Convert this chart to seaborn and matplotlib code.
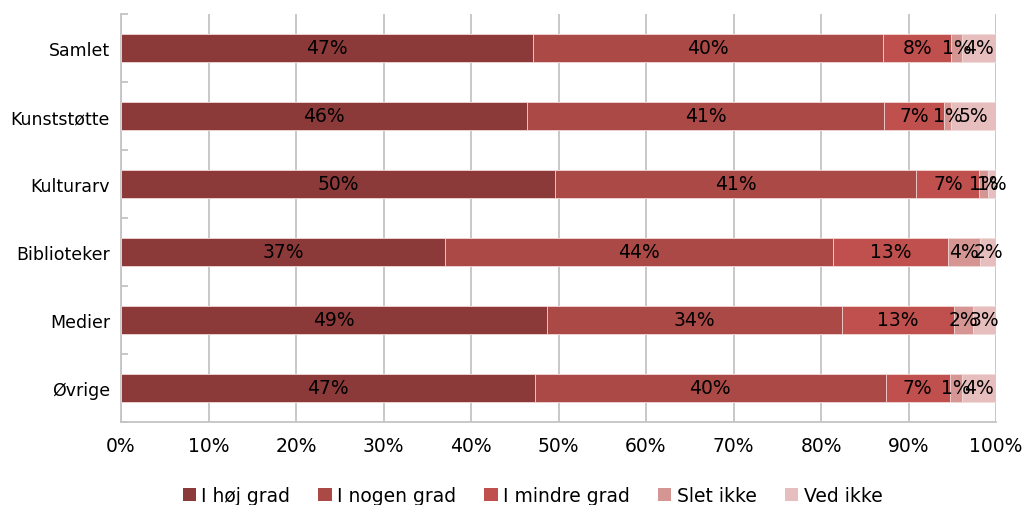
import numpy as np
import pandas as pd
import matplotlib
matplotlib.use("Agg")
import matplotlib.pyplot as plt
from matplotlib.ticker import PercentFormatter, FixedLocator
from matplotlib.patches import Patch
import seaborn as sns

# Survey answers per area (share of respondents, %)
categories = ["Samlet", "Kunststøtte", "Kulturarv", "Biblioteker", "Medier", "Øvrige"]
series_names = ["I høj grad", "I nogen grad", "I mindre grad", "Slet ikke", "Ved ikke"]
hoej_grad = [47.1, 46.4, 49.6, 37.0, 48.7, 47.3]
nogen_grad = [40.0, 40.8, 41.3, 44.4, 33.7, 40.1]
mindre_grad = [7.8, 6.9, 7.2, 13.1, 12.8, 7.3]
slet_ikke = [1.2, 0.8, 1.0, 3.7, 2.2, 1.4]
ved_ikke = [3.9, 5.1, 0.9, 1.8, 2.6, 3.9]
x_ticks = [0, 10, 20, 30, 40, 50, 60, 70, 80, 90, 100]

colors = ["#8c3a39", "#aa4946", "#c0504d", "#d49593", "#e6bebd"]

sns.set_theme(style="white")
plt.rcParams["font.family"] = ["DejaVu Sans"]
plt.rcParams["text.color"] = "black"

values = [hoej_grad, nogen_grad, mindre_grad, slet_ikke, ved_ikke]
df = pd.DataFrame({name: v for name, v in zip(series_names, values)}, index=categories)
cum = df.cumsum(axis=1)

fig = plt.figure(figsize=(10.24, 5.06), dpi=100)
ax = fig.add_axes([121 / 1024, 1 - 423 / 506, 875 / 1024, 408 / 506])

# Stacked bars: draw cumulative totals from the outermost series inward
for name, color in reversed(list(zip(series_names, colors))):
    d = pd.DataFrame({"cat": categories, "val": cum[name].values})
    sns.barplot(data=d, x="val", y="cat", orient="h", color=color,
                width=0.41, saturation=1, ax=ax, edgecolor="#f2dcdb",
                linewidth=0.6, zorder=3)

# Percentage labels centred in each segment
for i, cat in enumerate(categories):
    left = 0.0
    for name in series_names:
        v = df.loc[cat, name]
        ax.text(left + v / 2, i, f"{round(v)}%", ha="center", va="center",
                fontsize=13.5, color="black", zorder=5)
        left += v

ax.set_xlim(0, 100)
ax.set_ylim(len(categories) - 0.5, -0.5)
ax.xaxis.set_major_locator(FixedLocator(x_ticks))
ax.xaxis.set_major_formatter(PercentFormatter(100, decimals=0))
ax.grid(axis="x", color="#c4c4c4", linewidth=1.3, zorder=0)
ax.set_xlabel("")
ax.set_ylabel("")

for side in ["top", "right"]:
    ax.spines[side].set_visible(False)
for side in ["left", "bottom"]:
    ax.spines[side].set_color("#c4c4c4")
    ax.spines[side].set_linewidth(1.3)

ax.tick_params(axis="x", length=0, pad=10, labelsize=13.5, colors="black")
ax.tick_params(axis="y", which="major", length=0, pad=8, labelsize=12.5, colors="black")
ax.yaxis.set_minor_locator(FixedLocator(np.arange(-0.5, len(categories), 1.0)))
ax.tick_params(axis="y", which="minor", direction="in", length=5, width=1.3,
               color="#c4c4c4", left=True)

handles = [Patch(facecolor=c, edgecolor="none", label=n) for n, c in zip(series_names, colors)]
fig.legend(handles=handles, loc="center", bbox_to_anchor=(0.52, 0.018), ncol=5,
           frameon=False, fontsize=13.5, handlelength=0.7, handleheight=0.7,
           handletextpad=0.3, columnspacing=1.5, labelcolor="black")

fig.savefig("out.png", dpi=100, facecolor="white")
